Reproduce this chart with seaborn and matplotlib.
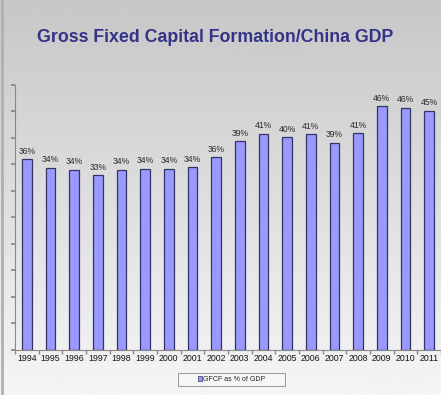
import matplotlib
matplotlib.use('Agg')
import matplotlib.pyplot as plt
from matplotlib.patches import Rectangle
import seaborn as sns
import numpy as np
import pandas as pd

# Data
years = [str(y) for y in range(1994, 2012)]
gfcf_pct = [36.0, 34.4, 34.0, 33.0, 34.0, 34.2, 34.2, 34.5, 36.4,
            39.4, 40.8, 40.1, 40.7, 39.1, 40.9, 46.0, 45.7, 45.1]
labels = ["36%", "34%", "34%", "33%", "34%", "34%", "34%", "34%", "36%",
          "39%", "41%", "40%", "41%", "39%", "41%", "46%", "46%", "45%"]
series_name = "GFCF as % of GDP"
title = "Gross Fixed Capital Formation/China GDP"

sns.set_theme(style="white")
plt.rcParams['font.family'] = ['Liberation Sans', 'DejaVu Sans']

df = pd.DataFrame({"year": years, "value": gfcf_pct})

fig = plt.figure(figsize=(4.41, 3.95), dpi=100)

# slide-like gray gradient background
bg = fig.add_axes([0, 0, 1, 1], zorder=0)
grad = np.linspace(0.78, 0.96, 256).reshape(-1, 1)
bg.imshow(grad, aspect='auto', cmap='gray', vmin=0, vmax=1,
          extent=[0, 1, 0, 1], origin='upper')
bg.axvline(0.004, color='#b0b0b0', lw=2)
bg.set_axis_off()

ax = fig.add_axes([0.034, 0.114, 0.966, 0.671], zorder=1)
ax.set_facecolor('none')

sns.barplot(data=df, x="year", y="value", ax=ax, color="#9999ff",
            edgecolor="#333366", linewidth=0.9, width=0.42, saturation=1,
            label=series_name)
handles, leg_labels = ax.get_legend_handles_labels()
if ax.get_legend() is not None:
    ax.get_legend().remove()

for i, (v, lab) in enumerate(zip(gfcf_pct, labels)):
    ax.annotate(lab, xy=(i, v), xytext=(0, 2.5), textcoords="offset points",
                ha='center', va='bottom', fontsize=6.2, color='#2a2a2a')

ax.set_ylim(0, 50)
ax.set_xlim(-0.5, len(years) - 0.5)
ax.set_yticks(np.arange(0, 51, 5))
ax.set_yticklabels([])
ax.set_xlabel("")
ax.set_ylabel("")

# tick marks between categories on x
ax.set_xticks(np.arange(len(years)))
ax.set_xticklabels(years, fontsize=6.3, color='#111111')
ax.tick_params(axis='x', length=0, pad=3)
ax.set_xticks(np.arange(-0.5, len(years), 1), minor=True)
ax.tick_params(axis='x', which='minor', bottom=True, length=3, color='#888888')
ax.tick_params(axis='y', left=True, length=3, color='#888888')

for s in ['top', 'right']:
    ax.spines[s].set_visible(False)
ax.spines['left'].set_color('#888888')
ax.spines['bottom'].set_color('#888888')
ax.spines['left'].set_linewidth(0.8)
ax.spines['bottom'].set_linewidth(0.8)

# legend box drawn wider than its content, like the original
fig.patches.append(Rectangle((178 / 441, 1 - 386 / 395), 107 / 441, 13 / 395,
                             transform=fig.transFigure, facecolor='#f6f6f6',
                             edgecolor='#888888', lw=0.6, zorder=1))
leg = fig.legend(handles, leg_labels, loc='center',
                 bbox_to_anchor=(231.5 / 441, 1 - 379.5 / 395),
                 fontsize=5, frameon=False, handlelength=0.6,
                 handleheight=0.6, handletextpad=0.2, borderpad=0)
leg.set_zorder(2)
for h in leg.legend_handles:
    h.set_linewidth(0.5)

fig.text(0.488, 0.904, title, ha='center', va='center', fontsize=12.8,
         fontweight='bold', color='#333388')

fig.savefig("out.png", dpi=100)
